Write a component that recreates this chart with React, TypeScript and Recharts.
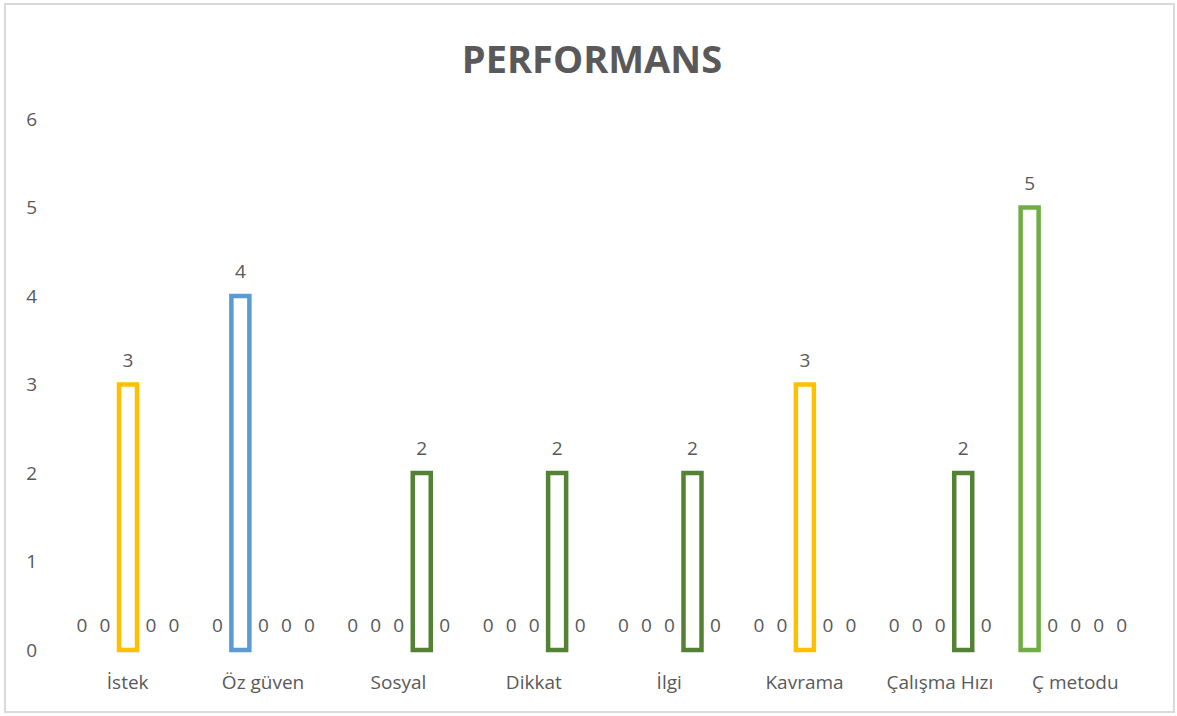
import { BarChart, Bar, XAxis, YAxis } from "recharts";

const categories = [
  "İstek",
  "Öz güven",
  "Sosyal",
  "Dikkat",
  "İlgi",
  "Kavrama",
  "Çalışma Hızı",
  "Ç metodu",
];

// five series per category
const seriesA = [0, 0, 0, 0, 0, 0, 0, 5];
const seriesB = [0, 4, 0, 0, 0, 0, 0, 0];
const seriesC = [3, 0, 0, 0, 0, 3, 0, 0];
const seriesD = [0, 0, 2, 2, 2, 0, 2, 0];
const seriesE = [0, 0, 0, 0, 0, 0, 0, 0];

const yTicks = [0, 1, 2, 3, 4, 5, 6];

const SERIES = [
  { key: "a", values: seriesA, color: "#70AD47" },
  { key: "b", values: seriesB, color: "#5B9BD5" },
  { key: "c", values: seriesC, color: "#FFC000" },
  { key: "d", values: seriesD, color: "#548235" },
  { key: "e", values: seriesE, color: "#A5A5A5" },
];

const data = categories.map((name, i) => {
  const row: Record<string, string | number> = { name };
  SERIES.forEach((s) => {
    row[s.key] = s.values[i];
  });
  return row;
});

const FONT = "'Open Sans', 'Liberation Sans', sans-serif";
const TEXT = "#595959";

// outline bar that skips empty bars but still prints the value label (0 too)
const makeShape = (key: string, color: string) => (props: any) => {
  const { x, y, width, height, payload } = props;
  const value = payload ? payload[key] : props.value;
  return (
    <g>
      {height > 0 && (
        <rect
          x={x}
          y={y}
          width={width}
          height={height}
          fill="#ffffff"
          stroke={color}
          strokeWidth={4.5}
        />
      )}
      <text
        x={x + width / 2}
        y={y - 18}
        textAnchor="middle"
        fill={TEXT}
        fontSize={19}
        fontFamily={FONT}
      >
        {value}
      </text>
    </g>
  );
};

export default function App() {
  return (
    <div
      style={{
        position: "absolute",
        left: 0,
        top: 0,
        width: 1177,
        height: 716,
        background: "#fff",
        fontFamily: FONT,
      }}
    >
      <div
        style={{
          position: "absolute",
          left: 4,
          top: 3,
          width: 1167,
          height: 706,
          border: "2px solid #d9d9d9",
        }}
      />
      <div
        style={{
          position: "absolute",
          left: 0,
          top: 34,
          width: 1184,
          textAlign: "center",
          fontSize: 38,
          fontWeight: 700,
          color: TEXT,
          lineHeight: "48px",
        }}
      >
        PERFORMANS
      </div>
      <div style={{ position: "absolute", left: 0, top: 0 }}>
        <BarChart
          width={1177}
          height={716}
          data={data}
          margin={{ top: 119, right: 34, bottom: 36, left: 0 }}
          barSize={18}
          barGap={5}
        >
          <XAxis
            dataKey="name"
            axisLine={false}
            tickLine={false}
            tickSize={0}
            tickMargin={26}
            interval={0}
            tick={{ fill: TEXT, fontSize: 19, fontFamily: FONT }}
          />
          <YAxis
            domain={[0, 6]}
            ticks={yTicks}
            width={60}
            axisLine={false}
            tickLine={false}
            tickSize={0}
            tickMargin={23}
            tick={{ fill: TEXT, fontSize: 19, fontFamily: FONT }}
          />
          {SERIES.map((s) => (
            <Bar
              key={s.key}
              dataKey={s.key}
              fill="#ffffff"
              stroke={s.color}
              strokeWidth={4.5}
              shape={makeShape(s.key, s.color)}
              isAnimationActive={false}
            />
          ))}
        </BarChart>
      </div>
    </div>
  );
}
